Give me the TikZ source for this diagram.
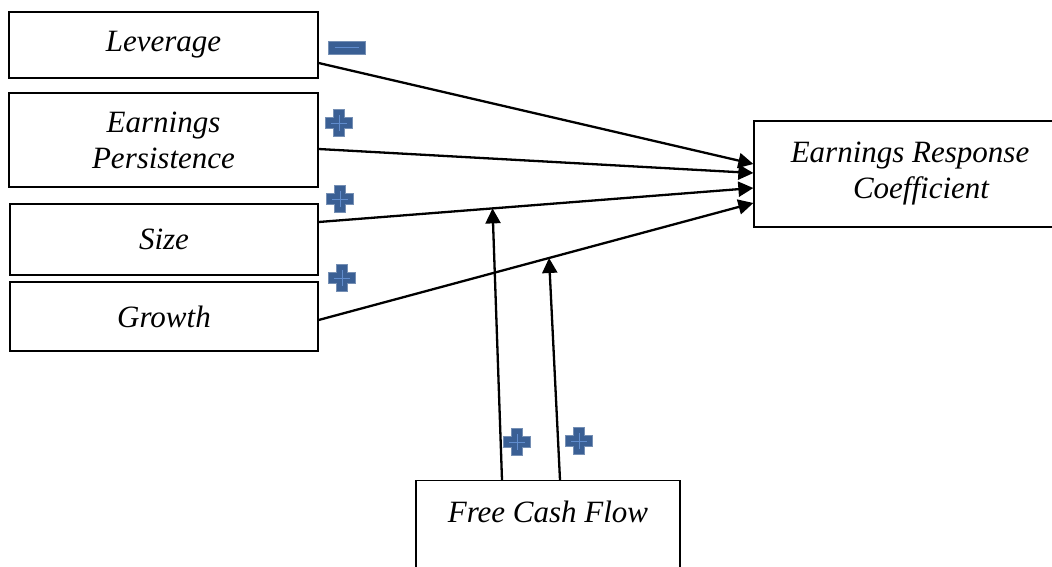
\documentclass[tikz,border=0pt]{standalone}
\usepackage{fontspec}
\setmainfont{Liberation Serif}
\usepackage{tikz}
\usetikzlibrary{arrows.meta}
\definecolor{signblue}{RGB}{58,95,148}
\definecolor{signline}{RGB}{96,140,205}

\begin{document}
\begin{tikzpicture}[x=1pt,y=-1pt,
    box/.style={draw,line width=1.3pt,rectangle,inner sep=0pt,align=center,
        font=\fontsize{31}{36}\selectfont\itshape},
    arr/.style={-{Triangle[length=15pt,width=15pt]},line width=2.3pt},
    posmark/.pic={
        \fill[signblue,draw=signblue!70!white,line width=0.6pt]
            (-5.5,-13.5) -- (5.5,-13.5) -- (5.5,-5.5) -- (13.5,-5.5) -- (13.5,5.5)
            -- (5.5,5.5) -- (5.5,13.5) -- (-5.5,13.5) -- (-5.5,5.5) -- (-13.5,5.5)
            -- (-13.5,-5.5) -- (-5.5,-5.5) -- cycle;
        \draw[signline,line width=0.8pt] (-8,0) -- (8,0) (0,-8) -- (0,8);
    },
    negmark/.pic={
        \fill[signblue,draw=signblue!70!white,line width=0.6pt]
            (-18.5,-6.5) rectangle (18.5,6.5);
        \draw[signline,line width=0.8pt] (-12,0) -- (12,0);
    }]
\useasboundingbox (0,0) rectangle (1052,567);

% factors
\node[box,minimum width=309,minimum height=66] (lev) at (163.5,45) {Leverage};
\node[box,minimum width=309,minimum height=94] (pers) at (163.5,140) {Earnings\\Persistence};
\node[box,minimum width=308,minimum height=71] (size) at (164,239.5) {Size};
\node[box,minimum width=308,minimum height=69] (grow) at (164,316.5) {Growth};

% outcome and moderator
\node[box,minimum width=312,minimum height=106] (erc) at (910,174) {Earnings Response\\\hspace{22pt}Coefficient};
\node[box,minimum width=264,text height=38pt,text depth=94pt,inner sep=4pt,anchor=north] (fcf) at (548,480) {Free Cash Flow};

\draw[arr] ([yshift=-18]lev.east) -- ([yshift=10]erc.west);
\draw[arr] ([yshift=-9]pers.east) -- ([yshift=1]erc.west);
\draw[arr] ([yshift=17.5]size.east) -- ([yshift=-14]erc.west) coordinate[pos=0.4] (onsize);
\draw[arr] ([yshift=-3.5]grow.east) -- ([yshift=-29]erc.west) coordinate[pos=0.53] (ongrow);

\draw[arr] ([xshift=-46]fcf.north) -- (onsize);
\draw[arr] ([xshift=12]fcf.north) -- (ongrow);

% signs
\pic at (346.5,47.5) {negmark};
\pic at (339,123) {posmark};
\pic at (340,199) {posmark};
\pic at (342,278) {posmark};
\pic at (517,442) {posmark};
\pic at (579,441) {posmark};
\end{tikzpicture}
\end{document}
